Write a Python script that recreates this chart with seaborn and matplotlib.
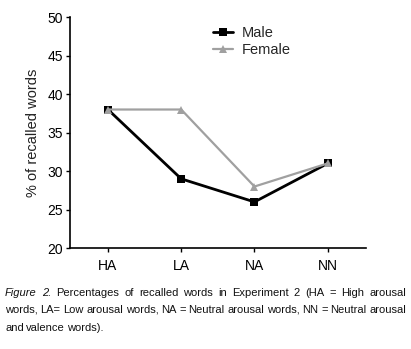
import matplotlib
matplotlib.use("Agg")
import matplotlib.pyplot as plt
import seaborn as sns
import pandas as pd
from matplotlib.lines import Line2D

categories = ["HA", "LA", "NA", "NN"]
male = [38, 29, 26, 31]
female = [38, 38, 28, 31]
caption_lines = [
    "Figure 2. Percentages of recalled words in Experiment 2 (HA = High arousal",
    "words, LA= Low arousal words, NA = Neutral arousal words, NN = Neutral arousal",
    "and valence words).",
]

df = pd.DataFrame({
    "cond": categories * 2,
    "pct": male + female,
    "sex": ["Male"] * 4 + ["Female"] * 4,
})

sns.set_theme(style="ticks")
plt.rcParams["font.family"] = ["Liberation Sans", "DejaVu Sans"]

fig = plt.figure(figsize=(4.11, 3.49), dpi=100)
ax = fig.add_axes([0.170, 0.289, 0.720, 0.662])

sns.lineplot(data=df, x="cond", y="pct", hue="sex", style="sex",
             palette={"Male": "black", "Female": "#a0a0a0"},
             markers={"Male": "s", "Female": "^"}, dashes=False,
             markersize=6, markeredgewidth=0, ax=ax, legend=False)
ax.lines[0].set_linewidth(2.0)
ax.lines[1].set_linewidth(1.6)

ax.set_xlim(-0.52, 3.52)
ax.set_ylim(20, 50)
ax.set_yticks(range(20, 51, 5))
ax.set_xlabel("")
ax.set_ylabel("% of recalled words", fontsize=10.5, color="#222222", labelpad=5)
ax.tick_params(axis="both", labelsize=10, colors="black", width=1, length=3, pad=2)
ax.tick_params(axis="x", pad=5)
sns.despine(ax=ax)
for s in ("left", "bottom"):
    ax.spines[s].set_linewidth(1.2)
    ax.spines[s].set_color("black")

handles = [
    Line2D([], [], color="black", marker="s", lw=2.0, markersize=6, markeredgewidth=0),
    Line2D([], [], color="#a0a0a0", marker="^", lw=1.6, markersize=6, markeredgewidth=0),
]
fig.legend(handles, ["Male", "Female"], loc="upper left",
           bbox_to_anchor=(207 / 411, 1 - 20 / 349), frameon=False,
           fontsize=10.5, handlelength=1.4, handletextpad=0.6, labelspacing=0.2,
           borderaxespad=0)

# caption, justified like the journal layout
fig.canvas.draw()
renderer = fig.canvas.get_renderer()
x0, x1 = 5 / 411, 406 / 411
ys = [1 - 293 / 349, 1 - 310 / 349, 1 - 328 / 349]
cap_kw = dict(fontsize=8, color="#111111", va="center", ha="left")
fig_w = fig.bbox.width
for i, line in enumerate(caption_lines):
    words = line.split(" ")
    texts = []
    for j, w in enumerate(words):
        style = "italic" if i == 0 and j < 2 else "normal"
        t = fig.text(0, ys[i], w, fontstyle=style, **cap_kw)
        texts.append(t)
    widths = [t.get_window_extent(renderer).width / fig_w for t in texts]
    if i < len(caption_lines) - 1:
        gap = (x1 - x0 - sum(widths)) / (len(words) - 1)
    else:
        gap = 2.5 / 411
    x = x0
    for t, wd in zip(texts, widths):
        t.set_x(x)
        x += wd + gap

fig.savefig("out.png", dpi=100)
